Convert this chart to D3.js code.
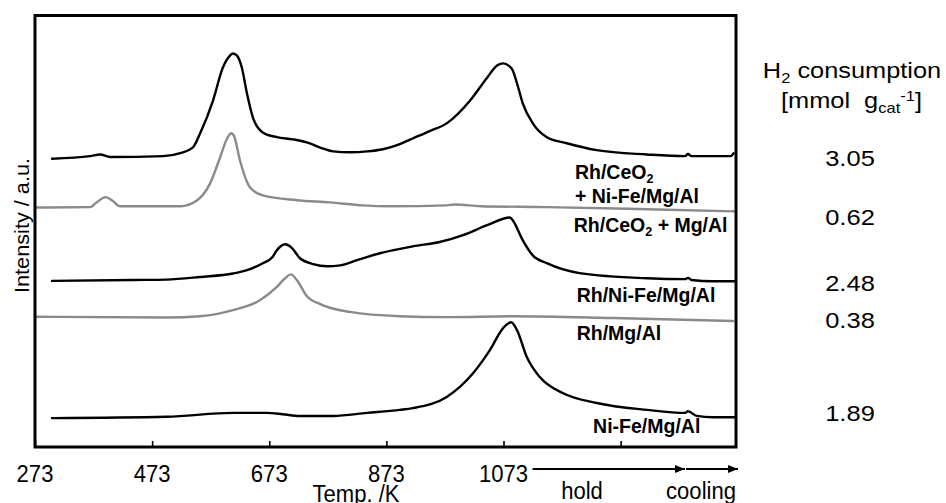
<!DOCTYPE html>
<html>
<head>
<meta charset="utf-8">
<script src="https://cdn.jsdelivr.net/npm/d3@7"></script>
<style>
  body { margin: 0; background: #fff; }
  text { font-family: "Liberation Sans", Arial, Helvetica, sans-serif; fill: #000; }
</style>
</head>
<body>
<svg id="chart" width="946" height="503"></svg>
<script>
// ---- H2-TPR profiles: temperature ramp to 1073 K, then hold, then cooling ----
const tempTicks = [273, 473, 673, 873, 1073, 1273];
const tempTickLabels = ["273", "473", "673", "873", "1073", ""];
const holdEndTemp = 1388;   // hold -> cooling switch on the run-time axis
const axisEndTemp = 1470;

const sampleNames = [
  ["Rh/CeO", "2", ""], // first line of a two-line label
  ["Rh/CeO", "2", " + Mg/Al"],
  ["Rh/Ni-Fe/Mg/Al"],
  ["Rh/Mg/Al"],
  ["Ni-Fe/Mg/Al"]
];
const h2Consumption = ["3.05", "0.62", "2.48", "0.38", "1.89"];

// Rh/CeO2 + Ni-Fe/Mg/Al
const tempA = [302, 367, 384, 401, 492, 521, 543, 555, 577, 594, 606, 611, 618, 626, 635, 645, 662, 686, 713, 737, 760, 782, 811, 840, 867, 896, 918, 947, 976, 1016, 1045, 1062, 1072, 1087, 1096, 1106, 1123, 1147, 1181, 1232, 1318, 1383, 1388, 1394, 1430, 1461, 1466];
const sigA  = [66.8, 67.4, 67.8, 67.2, 67.4, 68.1, 69.5, 72.7, 80.3, 88.0, 90.7, 91.2, 90.7, 88.0, 81.9, 76.4, 72.9, 71.8, 71.3, 70.6, 69.4, 68.5, 68.3, 68.5, 69.0, 70.2, 71.5, 73.2, 75.0, 80.3, 85.6, 88.4, 88.9, 87.7, 84.3, 79.6, 75.0, 71.8, 70.4, 68.8, 67.8, 67.4, 67.9, 67.4, 67.4, 67.4, 68.1];

// Rh/CeO2 + Mg/Al
const tempB = [273, 367, 379, 394, 406, 418, 521, 550, 572, 589, 601, 608, 613, 623, 640, 662, 720, 777, 833, 879, 976, 990, 1034, 1147, 1318, 1468];
const sigB  = [55.5, 55.6, 56.8, 57.9, 57.0, 55.8, 55.8, 57.2, 61.1, 67.1, 71.5, 72.7, 72.0, 66.4, 60.2, 58.3, 57.2, 56.7, 56.0, 55.8, 56.0, 56.2, 55.8, 55.6, 55.1, 54.6];

// Rh/Ni-Fe/Mg/Al
const tempC = [302, 440, 498, 555, 611, 635, 662, 679, 686, 700, 712, 725, 748, 772, 794, 823, 862, 918, 964, 1004, 1045, 1084, 1089, 1106, 1123, 1147, 1203, 1318, 1383, 1388, 1394, 1430, 1468];
const sigC  = [38.5, 38.7, 38.8, 39.4, 40.2, 41.0, 42.6, 44.1, 45.6, 47.0, 46.1, 43.8, 42.4, 41.9, 42.1, 43.3, 44.9, 46.5, 47.5, 49.1, 51.4, 53.2, 52.5, 47.9, 44.4, 42.6, 40.3, 39.1, 38.9, 39.2, 38.7, 38.4, 38.4];

// Rh/Mg/Al
const tempD = [273, 498, 555, 611, 657, 686, 700, 710, 720, 737, 760, 811, 896, 976, 1089, 1260, 1465];
const sigD  = [30.2, 30.0, 30.3, 31.7, 34.0, 37.1, 39.1, 40.0, 38.7, 35.0, 33.1, 31.3, 30.3, 30.1, 30.3, 29.9, 29.2];

// Ni-Fe/Mg/Al
const tempE = [302, 498, 611, 669, 696, 725, 782, 840, 896, 918, 976, 1021, 1050, 1072, 1086, 1096, 1113, 1135, 1174, 1232, 1318, 1383, 1388, 1403, 1430, 1468];
const sigE  = [6.7, 7.0, 7.9, 7.9, 7.6, 7.2, 7.2, 7.9, 8.6, 9.0, 11.6, 17.1, 22.5, 27.5, 28.9, 27.1, 20.8, 16.2, 12.5, 10.2, 8.6, 7.9, 8.3, 7.2, 6.9, 6.9];

const seriesTemps = [tempA, tempB, tempC, tempD, tempE];
const seriesSignals = [sigA, sigB, sigC, sigD, sigE];

// ---- drawing ----
const svg = d3.select("#chart");
const plot = { left: 35, right: 736, top: 15.5, bottom: 447 };

const x = d3.scaleLinear().domain([273, axisEndTemp]).range([plot.left, plot.right]);
const y = d3.scaleLinear().domain([0, 100]).range([plot.bottom, plot.top]);

const colors = ["#000", "#8a8a8a", "#000", "#8a8a8a", "#000"];

const line = d3.line()
  .x(d => x(d[0]))
  .y(d => y(d[1]))
  .curve(d3.curveMonotoneX);

svg.append("g").attr("class", "traces")
  .selectAll("path")
  .data(seriesTemps.map((t, i) => t.map((v, j) => [v, seriesSignals[i][j]])))
  .join("path")
  .attr("d", line)
  .attr("fill", "none")
  .attr("stroke", (d, i) => colors[i])
  .attr("stroke-width", 2.4)
  .attr("stroke-linejoin", "round")
  .attr("stroke-linecap", "round");

// inward ticks on the bottom edge
const xAxis = d3.axisBottom(x)
  .tickValues(tempTicks)
  .tickSize(-6)
  .tickFormat("");
const axG = svg.append("g")
  .attr("transform", `translate(0,${plot.bottom})`)
  .call(xAxis);
axG.select(".domain").remove();
axG.selectAll(".tick line").attr("stroke", "#000").attr("stroke-width", 1.6);

// frame
svg.append("rect")
  .attr("x", plot.left).attr("y", plot.top)
  .attr("width", plot.right - plot.left)
  .attr("height", plot.bottom - plot.top)
  .attr("fill", "none")
  .attr("stroke", "#000")
  .attr("stroke-width", 3);

// helper: text squeezed/stretched horizontally
function label(g, str, px, py, size, sx, anchor, weight) {
  return g.append("text")
    .attr("transform", `translate(${px},${py}) scale(${sx},1)`)
    .attr("text-anchor", anchor || "middle")
    .attr("font-size", size)
    .attr("font-weight", weight || "normal")
    .text(str);
}

// tick labels
const tl = svg.append("g");
tempTicks.forEach((t, i) => {
  if (tempTickLabels[i]) label(tl, tempTickLabels[i], x(t), 481.5, 24, 0.92);
});
label(tl, "Temp. /K", 356, 502, 24, 0.92);
label(tl, "hold", 582, 499, 24, 0.92);
label(tl, "cooling", 736, 499, 24, 0.92, "end");

// hold / cooling arrows
const defs = svg.append("defs");
defs.append("marker")
  .attr("id", "head")
  .attr("markerUnits", "userSpaceOnUse")
  .attr("markerWidth", 10).attr("markerHeight", 8)
  .attr("refX", 10).attr("refY", 4)
  .attr("orient", "auto")
  .append("path").attr("d", "M0,0 L10,4 L0,8 Z").attr("fill", "#000");

const arrowY = 469;
[[x(1073) + 29, x(holdEndTemp) - 3], [x(holdEndTemp) - 2, x(axisEndTemp) + 2]].forEach(([a, b]) => {
  svg.append("line")
    .attr("x1", a).attr("x2", b)
    .attr("y1", arrowY).attr("y2", arrowY)
    .attr("stroke", "#000").attr("stroke-width", 2)
    .attr("marker-end", "url(#head)");
});

// y-axis title
svg.append("text")
  .attr("transform", "translate(29,225.5) rotate(-90)")
  .attr("text-anchor", "middle")
  .attr("font-size", 21)
  .attr("textLength", 135)
  .attr("lengthAdjust", "spacingAndGlyphs")
  .text("Intensity / a.u.");

// sample labels (bold), placed in data units
const nameAnchors = [
  [1195, 62.0], [1193, 49.8], [1198, 33.6], [1198, 24.8], [1226, 3.2]
];
const names = svg.append("g").attr("font-weight", "bold");
function richName(parts, px, py) {
  const t = names.append("text")
    .attr("x", px).attr("y", py)
    .attr("font-size", 19.5)
    .attr("font-weight", "bold");
  t.append("tspan").text(parts[0]);
  if (parts.length > 1) {
    t.append("tspan").attr("font-size", 12.5).attr("dy", 4).text(parts[1]);
    t.append("tspan").attr("dy", -4).text(parts[2]);
  }
  return t;
}
sampleNames.forEach((p, i) => richName(p, x(nameAnchors[i][0]), y(nameAnchors[i][1])));
names.append("text")
  .attr("x", x(nameAnchors[0][0])).attr("y", y(56.5))
  .attr("font-size", 19.5).attr("font-weight", "bold")
  .text("+ Ni-Fe/Mg/Al");

// H2 consumption column
const side = svg.append("g");
const h1 = side.append("text")
  .attr("transform", "translate(852,78) scale(1.18,1)")
  .attr("text-anchor", "middle").attr("font-size", 21.5);
h1.append("tspan").text("H");
h1.append("tspan").attr("font-size", 14).attr("dy", 5).text("2");
h1.append("tspan").attr("dy", -5).text(" consumption");

const h2 = side.append("text")
  .attr("transform", "translate(851.5,108) scale(1.18,1)")
  .attr("text-anchor", "middle").attr("font-size", 21.5)
  .style("white-space", "pre");
h2.append("tspan").text("[mmol  g");
h2.append("tspan").attr("font-size", 14).attr("dy", 5).text("cat");
h2.append("tspan").attr("font-size", 14).attr("dy", -12).text("-1");
h2.append("tspan").attr("dy", 7).text("]");

const valueBaselines = [166, 225, 291, 328, 421];
h2Consumption.forEach((v, i) => label(side, v, 850, valueBaselines[i], 22, 1.16));
</script>
</body>
</html>
